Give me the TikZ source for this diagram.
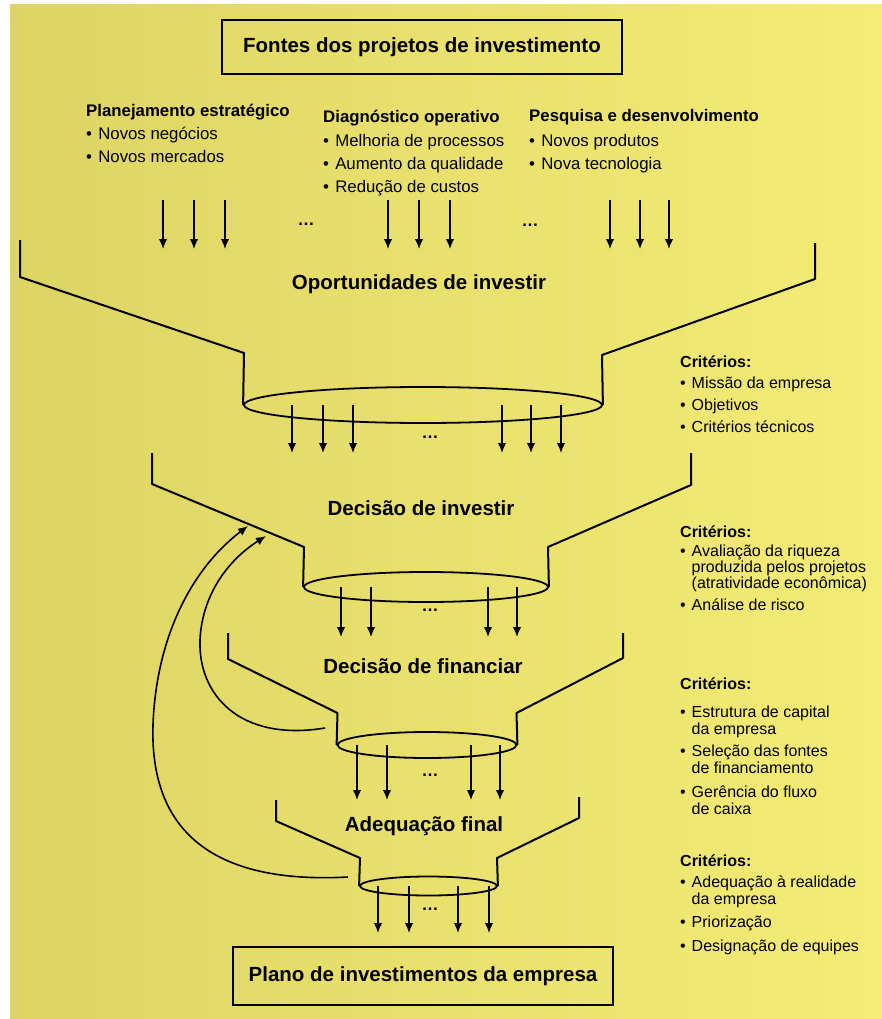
\documentclass[tikz,border=0pt]{standalone}
\usepackage{fontspec}
\setmainfont{Liberation Sans}
\usetikzlibrary{shapes.geometric,arrows.meta,calc}

\definecolor{paperdark}{RGB}{222,212,100}
\definecolor{paperlight}{RGB}{244,236,118}
\newcommand{\itm}{\makebox[0.72em][l]{\textbullet}}
\newcommand{\cnt}{\hspace*{0.72em}}

\begin{document}
\begin{tikzpicture}[
    x=1pt, y=-1pt,
    wall/.style={line width=2pt, line join=round},
    rim/.style={ellipse, draw, line width=1.8pt, inner sep=0pt},
    flow/.style={-{Latex[length=10pt,width=8.5pt]}, line width=1.5pt},
    loopback/.style={flow, line width=1.6pt},
    framed/.style={draw, line width=2.4pt, font=\bfseries\fontsize{20.5}{24}\selectfont},
    stage/.style={anchor=base, font=\bfseries\fontsize{20.5}{24}\selectfont},
    src/.style={anchor=base west, inner sep=0pt, font=\fontsize{16.8}{20}\selectfont},
    crit/.style={anchor=base west, inner sep=0pt, font=\fontsize{16}{19}\selectfont},
    gap/.style={font=\bfseries\fontsize{17}{17}\selectfont}
]
    % Paper
    \fill[white] (0,0) rectangle (882,1019);
    \shade[left color=paperdark, right color=paperlight] (10,5) rectangle (882,1019);
    \useasboundingbox (0,0) rectangle (882,1019);

    % Boxes
    \node[framed, minimum width=400pt, minimum height=54pt] (fontes) at (422,47) {Fontes dos projetos de investimento};
    \node[framed, minimum width=380pt, minimum height=58pt] (plano) at (423,976) {Plano de investimentos da empresa};

    % Sources
    \foreach \yy/\txt [count=\i] in {117/{\bfseries Planejamento estratégico}, 140/{\itm Novos negócios}, 163/{\itm Novos mercados}}
        \node[src] (plan\i) at (86,\yy) {\txt};
    \foreach \yy/\txt [count=\i] in {123/{\bfseries Diagnóstico operativo}, 147/{\itm Melhoria de processos}, 170/{\itm Aumento da qualidade}, 193/{\itm Redução de custos}}
        \node[src] (diag\i) at (323,\yy) {\txt};
    \foreach \yy/\txt [count=\i] in {122/{\bfseries Pesquisa e desenvolvimento}, 147/{\itm Novos produtos}, 170/{\itm Nova tecnologia}}
        \node[src] (pesq\i) at (529,\yy) {\txt};

    \foreach \x in {163,194,225,388,419,450,610,640,669} {
        \coordinate (top\x) at (\x,200);
        \draw[flow] (top\x) -- ++(0,49);
    }
    \node[gap] (gapA) at (306,224) {\ldots};
    \node[gap] (gapB) at (530,225) {\ldots};

    % Funnels
    \node[rim, minimum width=358pt, minimum height=36pt] (rim1) at (423,405) {};
    \draw[wall] (20,240) -- (20,277) -- (244,353) -- (rim1.west);
    \draw[wall] (815,243) -- (815,279) -- (602,355) -- (rim1.east);

    \node[rim, minimum width=244pt, minimum height=30pt] (rim2) at (426,587) {};
    \draw[wall] (152,453) -- (152,484) -- (304,547) -- (rim2.west);
    \draw[wall] (691,453) -- (691,485) -- (548,547) -- (rim2.east);

    \node[rim, minimum width=179pt, minimum height=26pt] (rim3) at (427,745) {};
    \draw[wall] (228,633) -- (228,659) -- (337.5,713) -- (rim3.west);
    \draw[wall] (623,633) -- (623,658) -- (516.5,713) -- (rim3.east);

    \node[rim, minimum width=137pt, minimum height=19pt] (rim4) at (428.5,886) {};
    \draw[wall] (276,800) -- (276,821) -- (360,858) -- (rim4.west);
    \draw[wall] (579,797) -- (579,818) -- (497,858) -- (rim4.east);

    \node[stage] (oport) at (419,289) {Oportunidades de investir};
    \node[stage] (investir) at (421,515) {Decisão de investir};
    \node[stage] (financiar) at (423,673) {Decisão de financiar};
    \node[stage] (adequacao) at (424,831) {Adequação final};

    % Outflow
    \foreach \dx in {-131,-100,-70,79,108,138}
        \draw[flow] ($(rim1.center)+(\dx,0)$) -- ++(0,48);
    \foreach \dx in {-85,-55,62,91}
        \draw[flow] ($(rim2.center)+(\dx,0)$) -- ++(0,50);
    \foreach \dx in {-70,-40,44,73}
        \draw[flow] ($(rim3.center)+(\dx,0)$) -- ++(0,55);
    \foreach \dx in {-50.5,-19.5,29.5,60.5}
        \draw[flow] ($(rim4.center)+(\dx,0)$) -- ++(0,47);
    \node[gap] (gap1) at (430,437) {\ldots};
    \node[gap] (gap2) at (430,610) {\ldots};
    \node[gap] (gap3) at (430,775) {\ldots};
    \node[gap] (gap4) at (430,909) {\ldots};

    % Feedback
    \coordinate (fbA) at (325,728);
    \coordinate (fbB) at (348,877);
    \coordinate (hitA) at (266,536);
    \coordinate (hitB) at (248,526);
    \draw[loopback] (fbA) .. controls (240,742) and (198,695) .. (200,640) .. controls (202,595) and (228,560) .. (hitA);
    \draw[loopback] (fbB) .. controls (200,885) and (150,820) .. (153,725) .. controls (156,640) and (190,570) .. (hitB);

    % Criteria
    \foreach \yy/\txt [count=\i] in {367/{\bfseries Critérios:}, 388/{\itm Missão da empresa}, 410/{\itm Objetivos}, 432/{\itm Critérios técnicos}}
        \node[crit] (critA\i) at (680,\yy) {\txt};
    \foreach \yy/\txt [count=\i] in {537/{\bfseries Critérios:}, 556/{\itm Avaliação da riqueza}, 572/{\cnt produzida pelos projetos}, 588/{\cnt (atratividade econômica)}, 610/{\itm Análise de risco}}
        \node[crit] (critB\i) at (680,\yy) {\txt};
    \foreach \yy/\txt [count=\i] in {689/{\bfseries Critérios:}, 717/{\itm Estrutura de capital}, 734/{\cnt da empresa}, 756/{\itm Seleção das fontes}, 773/{\cnt de financiamento}, 797/{\itm Gerência do fluxo}, 814/{\cnt de caixa}}
        \node[crit] (critC\i) at (680,\yy) {\txt};
    \foreach \yy/\txt [count=\i] in {866/{\bfseries Critérios:}, 887/{\itm Adequação à realidade}, 904/{\cnt da empresa}, 927/{\itm Priorização}, 951/{\itm Designação de equipes}}
        \node[crit] (critD\i) at (680,\yy) {\txt};
\end{tikzpicture}
\end{document}
